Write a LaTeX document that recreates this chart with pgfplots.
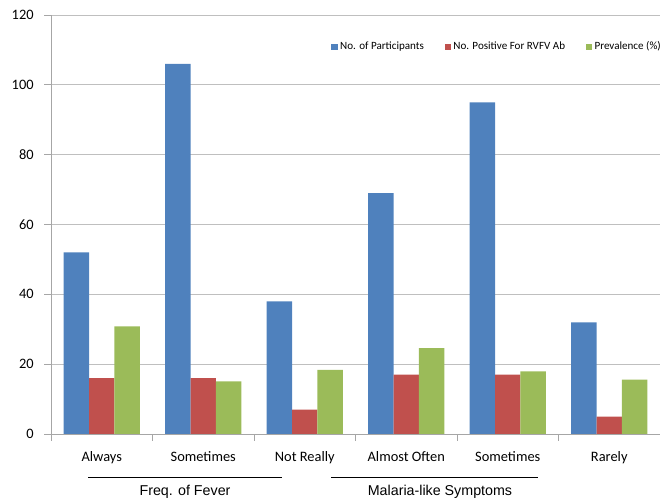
\documentclass[border=0pt]{standalone}
\usepackage{pgfplots}
\pgfplotsset{compat=1.18}
\usepackage{fontspec}
\setmainfont{Carlito}
\newfontfamily\arialfont{Liberation Sans}
\definecolor{cblue}{HTML}{4F81BD}
\definecolor{cred}{HTML}{C0504D}
\definecolor{cgreen}{HTML}{9BBB59}
\definecolor{gridgray}{HTML}{BFBFBF}
\definecolor{axgray}{HTML}{A6A6A6}
\begin{document}
\begin{tikzpicture}
\useasboundingbox (-38.25pt,-48.75pt) rectangle (456.75pt,325.5pt);
\begin{axis}[
 at={(0,0)}, anchor=south west,
 scale only axis, width=456.75pt, height=314.25pt,
 ybar=0pt, bar width=19.1pt,
 xmin=-0.5, xmax=5.5, ymin=0, ymax=120,
 xtick={0,...,5},
 xticklabels={Always,Sometimes,Not Really,Almost Often,Sometimes,Rarely},
 minor xtick={-0.5,0.5,...,5.5},
 ytick={0,20,...,120},
 axis x line*=bottom, axis y line*=left,
 axis line style={axgray, line width=0.6pt},
 ymajorgrids, grid style={gridgray, line width=0.6pt},
 tick align=outside,
 major x tick style={draw=none},
 minor x tick style={axgray, line width=0.6pt},
 major y tick style={axgray, line width=0.6pt},
 major tick length=5pt, minor tick length=5pt,
 /pgf/number format/assume math mode=true,
 tick label style={font=\fontsize{10.8}{12}\selectfont, text=black},
 xticklabel style={yshift=-4.5pt},
 yticklabel style={xshift=-4.5pt},
 legend columns=3,
 legend style={draw=none, fill=none, at={(0.46,0.924)}, anchor=west,
   font=\fontsize{8.3}{9.6}\selectfont, inner sep=0pt,
   /tikz/every even column/.append style={column sep=13.5pt}},
 legend image code/.code={\fill[#1] (0pt,-2.3pt) rectangle (4.6pt,2.3pt);},
]
\addplot[fill=cblue, draw=none] coordinates {(0,52) (1,106) (2,38) (3,69) (4,95) (5,32)};
\addplot[fill=cred, draw=none] coordinates {(0,16) (1,16) (2,7) (3,17) (4,17) (5,5)};
\addplot[fill=cgreen, draw=none] coordinates {(0,30.8) (1,15.1) (2,18.4) (3,24.6) (4,17.9) (5,15.6)};
\legend{No. of Participants, No. Positive For RVFV Ab, Prevalence (\%)}
\end{axis}
\draw[black, line width=0.6pt] (27.75pt,-32.25pt) -- (173.25pt,-32.25pt);
\draw[black, line width=0.6pt] (210pt,-32.25pt) -- (365.25pt,-32.25pt);
\node[font=\arialfont\fontsize{10.7}{12}\selectfont] at (100.5pt,-43.2pt) {Freq. of Fever};
\node[font=\arialfont\fontsize{10.7}{12}\selectfont] at (291.75pt,-43.2pt) {Malaria-like Symptoms};
\end{tikzpicture}
\end{document}
